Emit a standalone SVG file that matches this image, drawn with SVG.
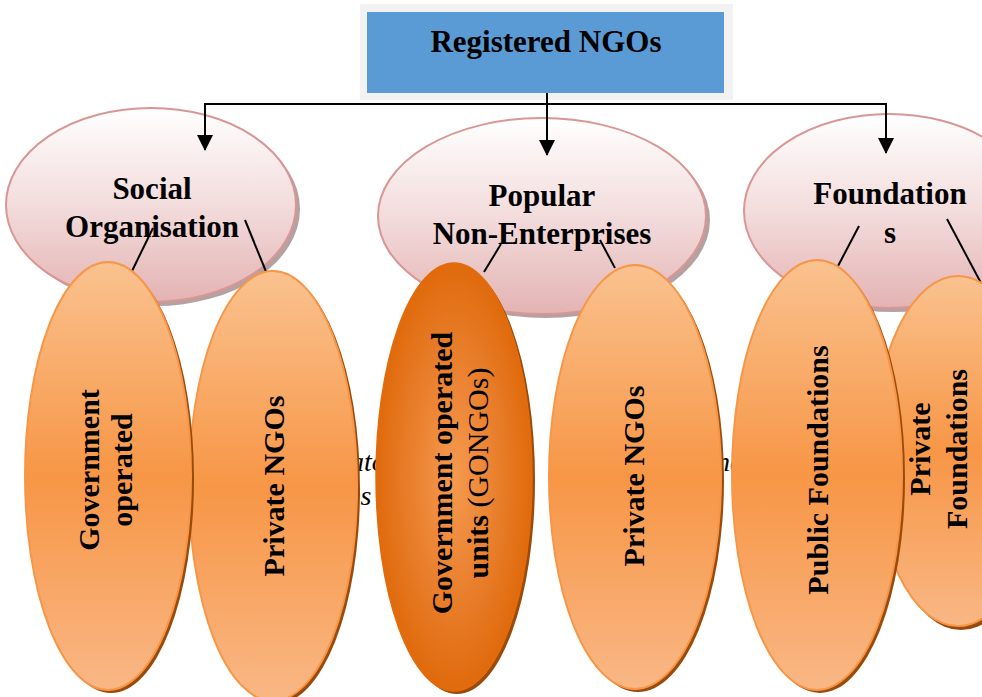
<svg xmlns="http://www.w3.org/2000/svg" width="982" height="697" viewBox="0 0 982 697">
<defs>
<style>
.t{font-family:"Liberation Serif","Times New Roman",serif;font-weight:bold;font-size:31px;fill:#000;text-anchor:middle}
.o{font-family:"Liberation Serif","Times New Roman",serif;font-weight:bold;font-size:30px;fill:#000;text-anchor:middle}
.r{font-weight:normal}
.it{font-family:"Liberation Serif","Times New Roman",serif;font-style:italic;font-size:28px;fill:#000}
.pink{fill:url(#gPink);stroke:#d99694;stroke-width:2}
.pshadow{fill:#9e8283;opacity:0.75}
.orange{fill:url(#gOrange);stroke:#f79646;stroke-width:2}
.oshadow{fill:#9a4a0a}
.dark{fill:url(#gDark);stroke:#e36c09;stroke-width:1.5}
.ln{stroke:#000;stroke-width:2;fill:none}
</style>
<linearGradient id="gPink" x1="0" y1="0" x2="0" y2="1">
<stop offset="0" stop-color="#ffffff"/>
<stop offset="0.5" stop-color="#f3dcdc"/>
<stop offset="1" stop-color="#e4b3b3"/>
</linearGradient>
<linearGradient id="gOrange" x1="0" y1="0" x2="0" y2="1">
<stop offset="0" stop-color="#fac28f"/>
<stop offset="0.5" stop-color="#f79646"/>
<stop offset="1" stop-color="#f9b785"/>
</linearGradient>
<radialGradient id="gDark" cx="0.5" cy="0.5" r="0.5">
<stop offset="0" stop-color="#f59a50"/>
<stop offset="0.6" stop-color="#e87d2a"/>
<stop offset="1" stop-color="#e06a0c"/>
</radialGradient>
<marker id="arr" markerUnits="userSpaceOnUse" markerWidth="16" markerHeight="18" refX="15" refY="8" orient="auto">
<path d="M0,0 L16,8 L0,16 Z" fill="#000"/>
</marker>
</defs>

<rect x="0" y="0" width="982" height="697" fill="#fff"/>

<!-- background italic fragments -->
<text class="it" x="350" y="471">ato</text>
<text class="it" x="348" y="505">es</text>
<text class="it" x="716" y="471">ne</text>

<g id="registered-ngos">
<rect x="360" y="4" width="373" height="96" fill="#f2f2f2"/>
<rect x="367" y="12" width="357" height="81" fill="#5b9bd5"/>
<text class="t" x="546" y="52">Registered NGOs</text>
</g>

<g id="social-organisation">
<ellipse class="pshadow" cx="155" cy="209" rx="145" ry="97"/>
<ellipse class="pink" cx="151" cy="205" rx="145" ry="97"/>
<text class="t" x="152" y="199">Social</text>
<text class="t" x="152" y="237">Organisation</text>
</g>

<g id="popular-non-enterprises">
<ellipse class="pshadow" cx="546" cy="220" rx="164" ry="98"/>
<ellipse class="pink" cx="542" cy="216" rx="164" ry="98"/>
<text class="t" x="542" y="206">Popular</text>
<text class="t" x="542" y="244">Non-Enterprises</text>
</g>

<g id="foundations">
<ellipse class="pshadow" cx="893" cy="215" rx="145" ry="97"/>
<ellipse class="pink" cx="889" cy="211" rx="145" ry="97"/>
<text class="t" x="890" y="204">Foundation</text>
<text class="t" x="890" y="243">s</text>
</g>

<g id="connectors">
<path class="ln" d="M205,104 H886"/>
<path class="ln" d="M547,93 V155" marker-end="url(#arr)"/>
<path class="ln" d="M205,103 V150" marker-end="url(#arr)"/>
<path class="ln" d="M886,103 V153" marker-end="url(#arr)"/>
<path class="ln" d="M153,228 L132,271"/>
<path class="ln" d="M245,220 L267,274"/>
<path class="ln" d="M501,244 L484,272"/>
<path class="ln" d="M600,240 L615,268"/>
<path class="ln" d="M859,226 L838,266"/>
<path class="ln" d="M947,219 L990,300" marker-end="url(#arr)"/>
</g>

<g id="private-ngos-1">
<ellipse class="oshadow" cx="276" cy="489" rx="84" ry="215"/>
<ellipse class="orange" cx="273" cy="486" rx="84" ry="215"/>
<text class="o" transform="translate(284,486) rotate(-90)" x="0" y="0">Private NGOs</text>
</g>

<g id="government-operated">
<ellipse class="oshadow" cx="111" cy="479" rx="83" ry="214"/>
<ellipse class="orange" cx="108" cy="476" rx="83" ry="214"/>
<text class="o" transform="translate(99,470) rotate(-90)" x="0" y="0">Government</text>
<text class="o" transform="translate(99,470) rotate(-90)" x="0" y="33">operated</text>
</g>

<g id="gongos">
<ellipse class="oshadow" cx="457" cy="480" rx="78" ry="214"/>
<ellipse class="dark" cx="454" cy="477" rx="78" ry="214"/>
<text class="o" transform="translate(452,473) rotate(-90)" x="0" y="0">Government operated</text>
<text class="o" transform="translate(452,473) rotate(-90)" x="0" y="36">units <tspan class="r">(GONGOs)</tspan></text>
</g>

<g id="private-ngos-2">
<ellipse class="oshadow" cx="638" cy="480" rx="86" ry="212"/>
<ellipse class="orange" cx="635" cy="477" rx="86" ry="212"/>
<text class="o" transform="translate(644,476) rotate(-90)" x="0" y="0">Private NGOs</text>
</g>

<g id="private-foundations">
<ellipse class="oshadow" cx="961" cy="455" rx="84" ry="175"/>
<ellipse class="orange" cx="958" cy="451" rx="84" ry="175"/>
<text class="o" transform="translate(930,449) rotate(-90)" x="0" y="0">Private</text>
<text class="o" transform="translate(930,449) rotate(-90)" x="0" y="37">Foundations</text>
</g>

<g id="public-foundations">
<ellipse class="oshadow" cx="820" cy="478" rx="85" ry="215"/>
<ellipse class="orange" cx="817" cy="475" rx="85" ry="215"/>
<text class="o" transform="translate(828,470) rotate(-90)" x="0" y="0">Public Foundations</text>
</g>
</svg>
